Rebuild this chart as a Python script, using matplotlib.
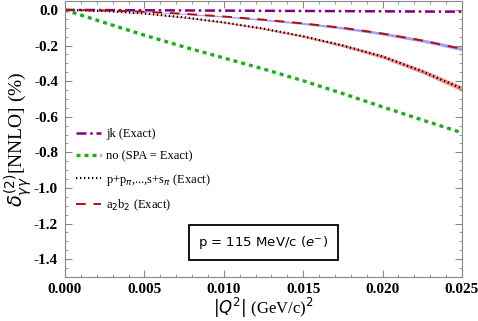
import numpy as np
import matplotlib.pyplot as plt
from matplotlib.ticker import MultipleLocator, FormatStrFormatter

# values
q2 = [0.0, 0.0025, 0.005, 0.0075, 0.010, 0.0125, 0.015, 0.0175, 0.020, 0.0225, 0.025]
jk = [0.0, -0.001, -0.002, -0.003, -0.004, -0.005, -0.006, -0.007, -0.008, -0.009, -0.010]
no = [0.0, -0.072, -0.142, -0.208, -0.270, -0.332, -0.398, -0.470, -0.545, -0.618, -0.690]
pp = [0.0, -0.006, -0.020, -0.042, -0.070, -0.105, -0.148, -0.200, -0.262, -0.345, -0.442]
ab = [0.0, -0.003, -0.010, -0.022, -0.037, -0.055, -0.076, -0.101, -0.133, -0.172, -0.219]
pp_err = [0.0, 0.001, 0.002, 0.003, 0.004, 0.005, 0.006, 0.008, 0.010, 0.012, 0.014]
ab_err = [0.0, 0.001, 0.002, 0.003, 0.004, 0.005, 0.006, 0.007, 0.008, 0.009, 0.010]

serif = 'Liberation Serif'

fig = plt.figure(figsize=(4.78, 3.21), dpi=100)
ax = fig.add_axes([65/478, 44/321, 397/478, 276/321])

x = np.array(q2)
ax.fill_between(x, np.array(pp) - pp_err, np.array(pp) + pp_err, color='#ff8080', lw=0, alpha=0.9)
ax.fill_between(x, np.array(ab) - ab_err, np.array(ab) + ab_err, color='#9999ff', lw=0, alpha=0.9)

ax.plot(x, jk, color='#800080', ls=(0, (4, 1.5, 1, 1.5)), lw=1.8, label='jk (Exact)')
ax.plot(x, no, color='#22aa22', ls=(0, (1.2, 1.2)), lw=2.4, label='no (SPA = Exact)')
ax.plot(x, pp, color='black', ls=(0, (0.6, 1.2)), lw=1.6, label=r'p+p$_\pi$,...,s+s$_\pi$ (Exact)')
ax.plot(x, ab, color='#b01010', ls=(0, (5, 4)), lw=1.4, label=r'a$_2$b$_2$ (Exact)')

ax.set_xlim(0, 0.025)
ax.set_ylim(-1.5, 0.05)
ax.xaxis.set_major_locator(MultipleLocator(0.005))
ax.xaxis.set_minor_locator(MultipleLocator(0.001))
ax.yaxis.set_major_locator(MultipleLocator(0.2))
ax.yaxis.set_minor_locator(MultipleLocator(0.05))
ax.xaxis.set_major_formatter(FormatStrFormatter('%.3f'))
ax.yaxis.set_major_formatter(FormatStrFormatter('%.1f'))
ax.tick_params(which='both', direction='in', top=True, right=True, color='#888888')
ax.tick_params(which='major', length=5, labelsize=11)
ax.tick_params(which='minor', length=2.5)
for lab in ax.get_xticklabels() + ax.get_yticklabels():
    lab.set_fontfamily(serif)
    lab.set_fontweight('bold')
ax.tick_params(axis='x', pad=4)
ax.tick_params(axis='y', pad=5)
for s in ax.spines.values():
    s.set_color('#888888')

ax.set_xlabel(r'$|Q^2|$ (GeV/c)$^2$', fontsize=12, family=serif, labelpad=0)
ax.set_ylabel(r'$\delta^{(2)}_{\gamma\gamma}$[NNLO] (%)', fontsize=14, family=serif, labelpad=0)

leg = ax.legend(loc='upper left', bbox_to_anchor=(0.0, 0.58), frameon=False,
                prop={'family': serif, 'size': 9}, handlelength=2.0, labelspacing=0.78,
                handletextpad=0.4)

ax.text(0.50, 0.125, r'p = 115 MeV/c ($e^{-}$)', transform=ax.transAxes, ha='center', va='center',
        fontsize=9.5, family='DejaVu Sans',
        bbox=dict(boxstyle='square,pad=0.7', fc='white', ec='black', lw=1.3))

fig.savefig('out.png', dpi=100)
